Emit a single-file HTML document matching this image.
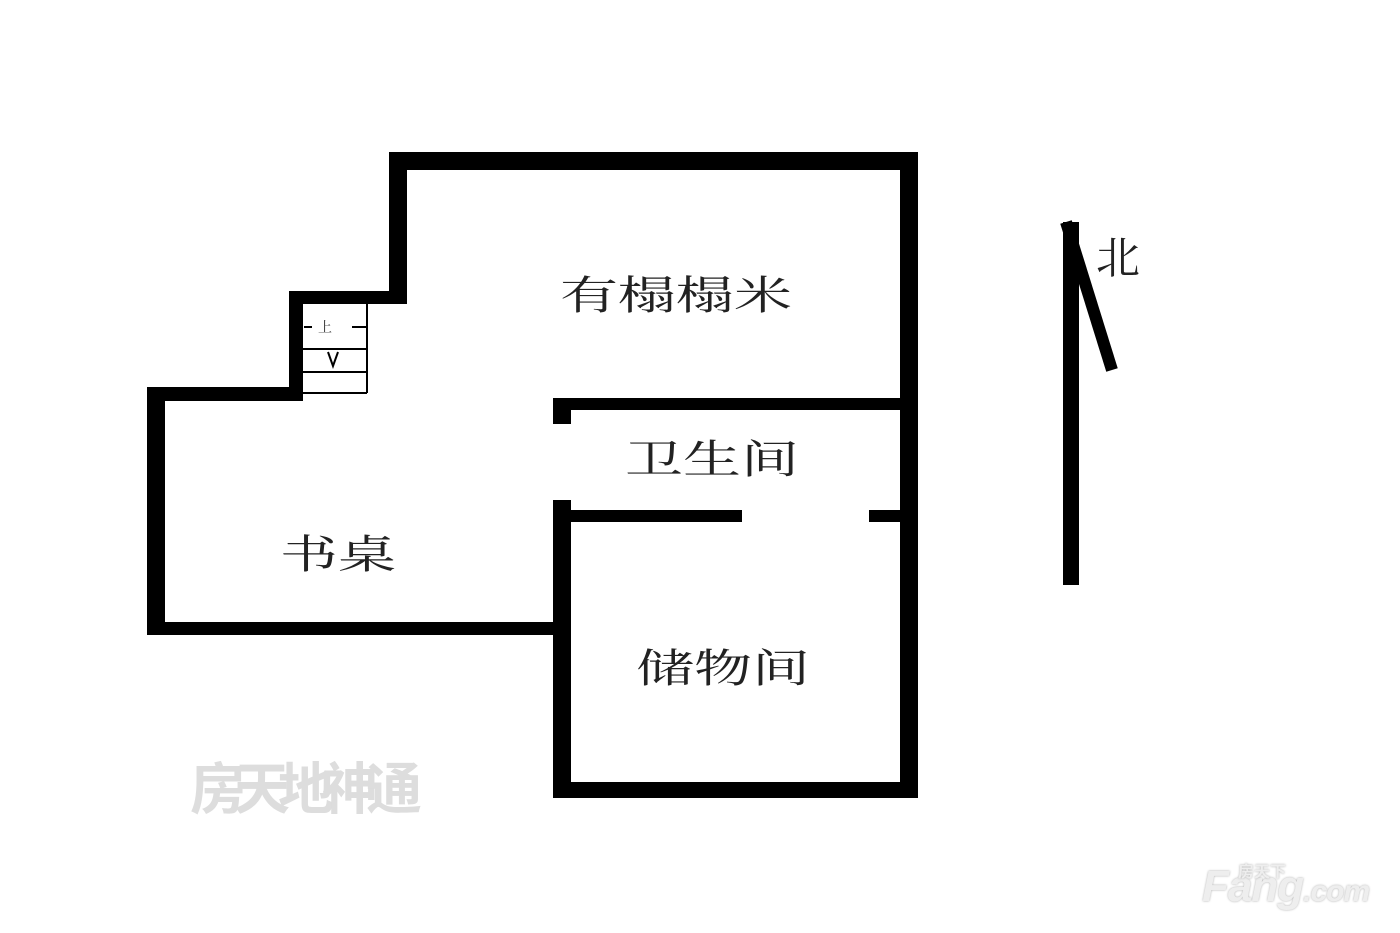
<!DOCTYPE html>
<html><head><meta charset="utf-8"><style>
body{margin:0;width:1400px;height:933px;background:#fff;position:relative;overflow:hidden;font-family:"Liberation Serif","Noto Serif CJK SC",serif}
.w{position:absolute;background:#000}
.t{position:absolute;font-size:40px;color:#222;white-space:nowrap;letter-spacing:0;transform:scaleX(1.45);transform-origin:0 0}
</style></head><body>
<div class="w" style="left:389px;top:152px;width:529px;height:18px"></div>
<div class="w" style="left:900px;top:152px;width:18px;height:646px"></div>
<div class="w" style="left:389px;top:152px;width:18px;height:150px"></div>
<div class="w" style="left:289px;top:291px;width:118px;height:13px"></div>
<div class="w" style="left:289px;top:291px;width:14px;height:110px"></div>
<div class="w" style="left:147px;top:387px;width:156px;height:14px"></div>
<div class="w" style="left:147px;top:387px;width:18px;height:248px"></div>
<div class="w" style="left:147px;top:622px;width:409px;height:13px"></div>
<div class="w" style="left:553px;top:500px;width:18px;height:298px"></div>
<div class="w" style="left:553px;top:782px;width:365px;height:16px"></div>
<div class="w" style="left:553px;top:398px;width:365px;height:12px"></div>
<div class="w" style="left:553px;top:398px;width:18px;height:26px"></div>
<div class="w" style="left:571px;top:510px;width:171px;height:12px"></div>
<div class="w" style="left:869px;top:510px;width:31px;height:12px"></div>
<svg style="position:absolute;left:0;top:0" width="1400" height="933">
<g stroke="#000" stroke-width="2" fill="none">
<line x1="367" y1="304" x2="367" y2="393"/>
<line x1="303" y1="393" x2="367" y2="393"/>
<line x1="303" y1="349" x2="367" y2="349"/>
<line x1="303" y1="372" x2="367" y2="372"/>
<line x1="304" y1="327" x2="312" y2="327"/><line x1="352" y1="327" x2="367" y2="327"/>
<path d="M328 352 L333 366 L338 352"/>
</g>
<text x="318" y="332" font-size="14" fill="#333">上</text>
<line x1="1071" y1="222" x2="1071" y2="585" stroke="#000" stroke-width="16"/>
<line x1="1066" y1="222" x2="1112" y2="370" stroke="#000" stroke-width="12"/>
</svg>
<div class="t" style="left:560px;top:264px">有榻榻米</div>
<div class="t" style="left:625px;top:428px">卫生间</div>
<div class="t" style="left:280px;top:523px">书桌</div>
<div class="t" style="left:636px;top:637px">储物间</div>
<div class="t" style="left:1096px;top:222px;font-size:44px;transform:none">北</div>
<div class="t" style="left:190px;top:745px;font-size:56px;color:#ddd;font-family:'Liberation Sans','Noto Sans CJK SC',sans-serif;font-weight:bold;letter-spacing:-12px;transform:none">房天地神通</div>
<div style="position:absolute;left:1202px;top:862px;font:bold italic 44px 'Liberation Sans',sans-serif;color:#eee;text-shadow:0 0 2px #aaa;letter-spacing:-1px">Fang<span style="font-size:30px">.com</span></div>
<div style="position:absolute;left:1238px;top:858px;font:bold 16px 'Noto Sans CJK SC',sans-serif;color:#eee;text-shadow:0 0 2px #aaa">房天下</div>
</body></html>
